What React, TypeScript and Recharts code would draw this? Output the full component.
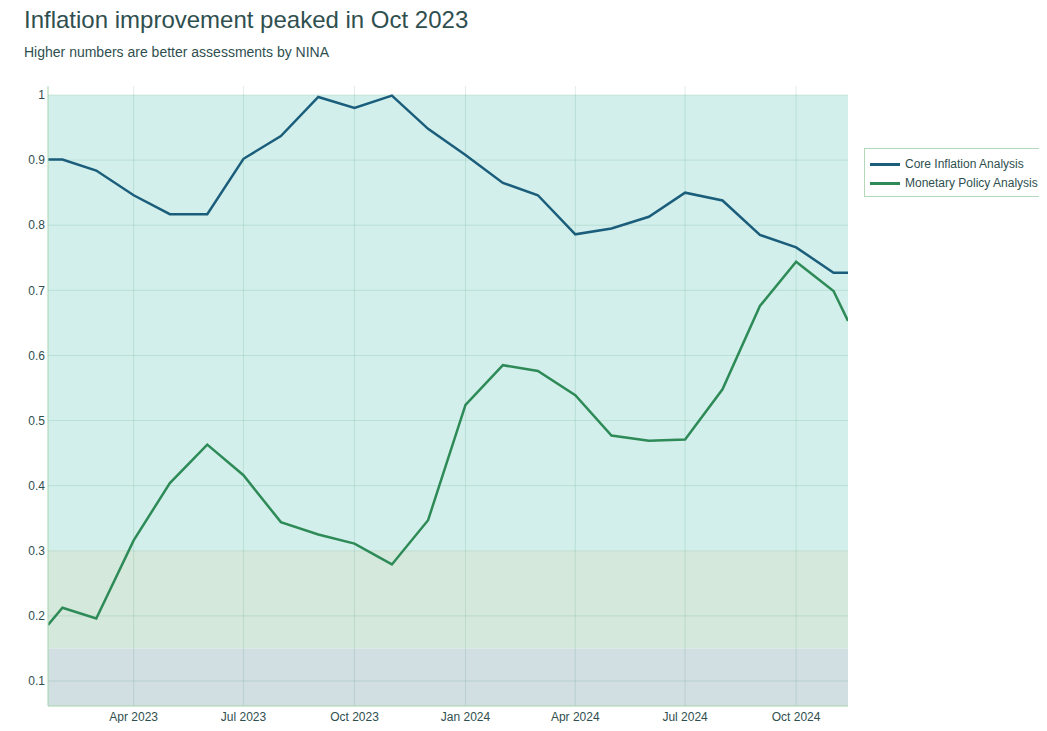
import React from "react";
import {
    LineChart,
    Line,
    XAxis,
    YAxis,
    CartesianGrid,
    ReferenceArea,
} from "recharts";

// Monthly snapshots (first and last entries are where the lines meet the plot edges)
const dates = [
    "2023-01-20", "2023-02-01", "2023-03-01", "2023-04-01", "2023-05-01", "2023-06-01",
    "2023-07-01", "2023-08-01", "2023-09-01", "2023-10-01", "2023-11-01", "2023-12-01",
    "2024-01-01", "2024-02-01", "2024-03-01", "2024-04-01", "2024-05-01", "2024-06-01",
    "2024-07-01", "2024-08-01", "2024-09-01", "2024-10-01", "2024-11-01", "2024-11-13",
];

const coreInflation = [
    0.901, 0.901, 0.884, 0.846, 0.817, 0.817, 0.902, 0.937, 0.997, 0.98, 0.999, 0.948,
    0.908, 0.865, 0.846, 0.786, 0.795, 0.813, 0.85, 0.838, 0.785, 0.766, 0.727, 0.727,
];

const monetaryPolicy = [
    0.186, 0.2125, 0.196, 0.316, 0.404, 0.463, 0.416, 0.344, 0.325, 0.311, 0.279, 0.347,
    0.524, 0.585, 0.576, 0.539, 0.477, 0.469, 0.471, 0.548, 0.676, 0.744, 0.699, 0.653,
];

const xTickDates = [
    "2023-04-01", "2023-07-01", "2023-10-01", "2024-01-01", "2024-04-01", "2024-07-01", "2024-10-01",
];
const yTicks = [0.1, 0.2, 0.3, 0.4, 0.5, 0.6, 0.7, 0.8, 0.9, 1];
const yRange = [0.0616, 1.0138];

const MONTHS = ["Jan", "Feb", "Mar", "Apr", "May", "Jun", "Jul", "Aug", "Sep", "Oct", "Nov", "Dec"];

const toTs = (d: string) => new Date(d + "T00:00:00Z").getTime();

const chartData = dates.map((d, i) => ({
    t: toTs(d),
    core: coreInflation[i],
    monetary: monetaryPolicy[i],
}));

const xTicks = xTickDates.map(toTs);

const formatMonth = (ts: number) => {
    const d = new Date(ts);
    return `${MONTHS[d.getUTCMonth()]} ${d.getUTCFullYear()}`;
};

const TEXT = "#2f4f4f";
const CORE = "#1b5e7b";
const MONETARY = "#2e8b57";
const FONT = "'Liberation Sans', Arial, sans-serif";

export default function App() {
    return (
        <div style={{ position: "relative", width: 1047, height: 731, margin: -8, background: "#fff", fontFamily: FONT, color: TEXT }}>
            {/* Title */}
            <div style={{ position: "absolute", left: 24, top: 6, fontSize: 24, whiteSpace: "nowrap" }}>
                Inflation improvement peaked in Oct 2023
            </div>
            <div style={{ position: "absolute", left: 24, top: 44, fontSize: 14, whiteSpace: "nowrap" }}>
                Higher numbers are better assessments by NINA
            </div>

            <div style={{ position: "absolute", left: 0, top: 0 }}>
                <LineChart
                    width={1047}
                    height={731}
                    data={chartData}
                    margin={{ top: 86, right: 199, bottom: 0, left: 0 }}
                >
                    {/* Assessment bands */}
                    <ReferenceArea y1={0.3} y2={1} fill="#d2efec" fillOpacity={1} stroke="none" zIndex={-200} />
                    <ReferenceArea y1={0.15} y2={0.3} fill="#d4e8dc" fillOpacity={1} stroke="none" zIndex={-200} />
                    <ReferenceArea y1={yRange[0]} y2={0.15} fill="#d1dee2" fillOpacity={1} stroke="none" zIndex={-200} />
                    <CartesianGrid stroke="#2e8b57" strokeOpacity={0.15} zIndex={-100} syncWithTicks />
                    <XAxis
                        dataKey="t"
                        type="number"
                        scale="time"
                        domain={[toTs(dates[0]), toTs(dates[dates.length - 1])]}
                        allowDataOverflow
                        ticks={xTicks}
                        tickFormatter={formatMonth}
                        height={25}
                        tickLine={false}
                        tickSize={0}
                        tickMargin={6}
                        axisLine={{ stroke: "#a6d4ae" }}
                        tick={{ fill: TEXT, fontSize: 12, fontFamily: FONT }}
                    />
                    <YAxis
                        type="number"
                        domain={yRange}
                        allowDataOverflow
                        ticks={yTicks}
                        tickFormatter={(v: number) => String(Math.round(v * 10) / 10)}
                        width={48}
                        tickLine={false}
                        tickSize={0}
                        tickMargin={3}
                        axisLine={{ stroke: "#a6d4ae" }}
                        tick={{ fill: TEXT, fontSize: 12, fontFamily: FONT }}
                    />
                    <Line
                        type="linear"
                        dataKey="core"
                        name="Core Inflation Analysis"
                        stroke={CORE}
                        strokeWidth={2.5}
                        dot={false}
                        isAnimationActive={false}
                    />
                    <Line
                        type="linear"
                        dataKey="monetary"
                        name="Monetary Policy Analysis"
                        stroke={MONETARY}
                        strokeWidth={2.5}
                        dot={false}
                        isAnimationActive={false}
                    />
                </LineChart>
            </div>

            {/* Legend */}
            <div
                style={{
                    position: "absolute",
                    left: 864,
                    top: 148,
                    width: 177,
                    height: 47,
                    border: "1px solid #b3d9b8",
                    background: "#fff",
                    fontSize: 12,
                }}
            >
                {[
                    { label: "Core Inflation Analysis", color: CORE },
                    { label: "Monetary Policy Analysis", color: MONETARY },
                ].map((item, i) => (
                    <div
                        key={item.label}
                        style={{ position: "absolute", left: 5, top: 7 + i * 19, height: 16, display: "flex", alignItems: "center", whiteSpace: "nowrap" }}
                    >
                        <span style={{ display: "inline-block", width: 30, height: 3, background: item.color, marginRight: 5 }} />
                        <span>{item.label}</span>
                    </div>
                ))}
            </div>
        </div>
    );
}
